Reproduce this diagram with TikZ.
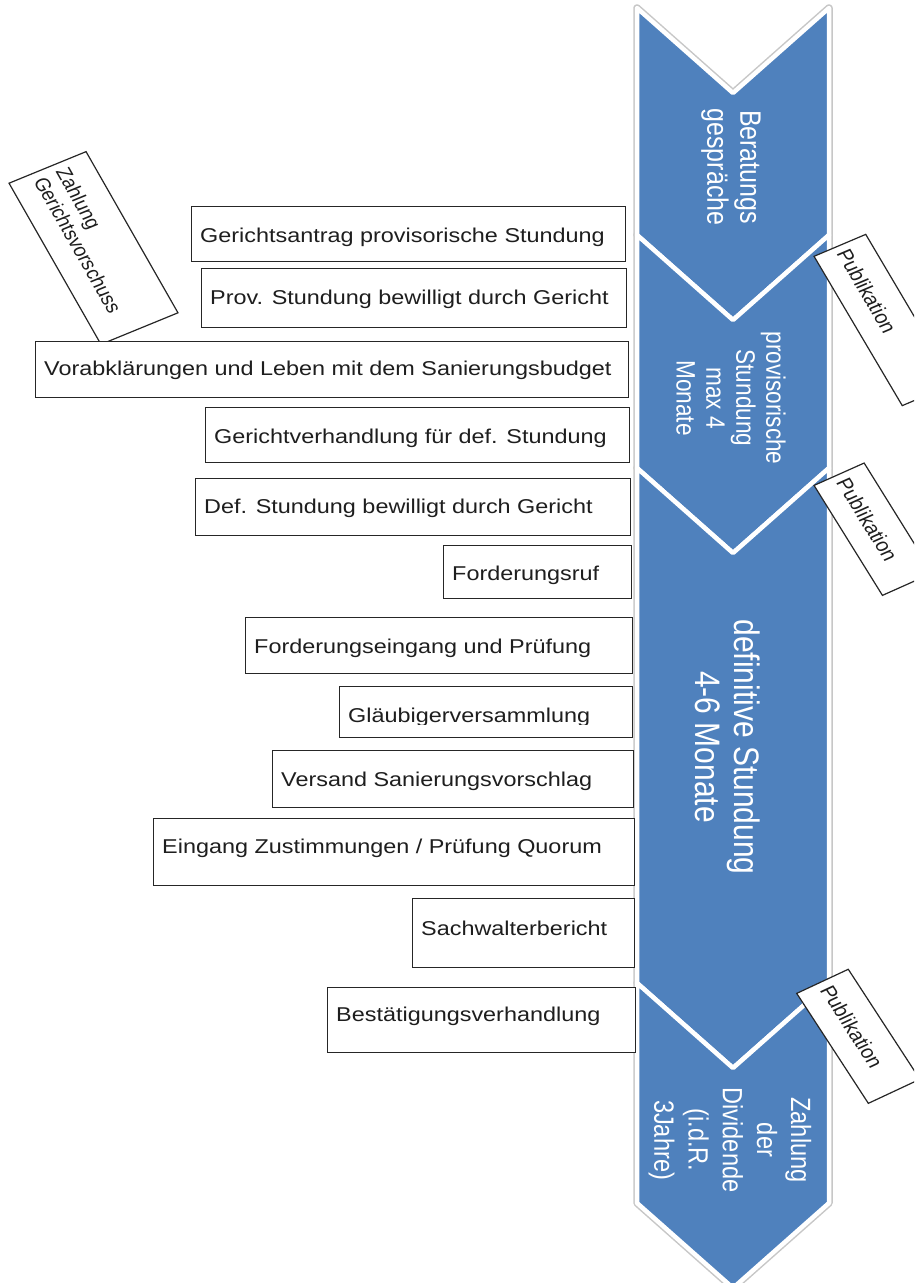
\documentclass[tikz,border=0pt]{standalone}
\usepackage{fontspec}
\setmainfont{Liberation Sans}
\definecolor{chev}{HTML}{4F81BD}
\definecolor{ink}{HTML}{1E1E1E}
\begin{document}
\begin{tikzpicture}[x=1pt,y=-1pt,
  chevring/.style={draw=black!22, line width=7.5pt, line join=round},
  chevbody/.style={fill=chev, draw=white, line width=4.5pt, line join=round},
  chevtext/.style={text=white, align=center, xscale=1.18, rotate=-90, inner sep=0pt},
  box/.style={draw=black!85, line width=1.2pt, fill=white, inner sep=0pt, anchor=north west},
  boxtext/.style={anchor=base west, inner sep=0pt, text=ink, xscale=1.17, font=\fontsize{20}{24}\selectfont},
  tilted/.style={draw=black!85, line width=1.2pt, fill=white, text=ink, align=left, inner ysep=0pt}
]
\useasboundingbox (0,0) rectangle (914,1283);
\clip (0,0) rectangle (914,1283);

% chevron column
\foreach \t/\b in {8/235, 235/468, 468/983, 983/1203}{
  \path[chevring] (637,\t) -- (733,\t+85) -- (829,\t) -- (829,\b) -- (733,\b+85) -- (637,\b) -- cycle;
}
\foreach \t/\b in {8/235, 235/468, 468/983, 983/1203}{
  \path[chevbody] (637,\t) -- (733,\t+85) -- (829,\t) -- (829,\b) -- (733,\b+85) -- (637,\b) -- cycle;
}

\node[chevtext, font=\fontsize{25}{28}\selectfont] (c1) at (731,167) {Beratungs\\gespräche};
\node[chevtext, font=\fontsize{22.6}{25.4}\selectfont] (c2) at (731,398) {provisorische\\Stundung\\max 4\\Monate};
\node[chevtext, font=\fontsize{30}{33}\selectfont] (c3) at (728,747) {definitive Stundung\\4-6 Monate};
\node[chevtext, font=\fontsize{23.6}{29}\selectfont] (c4) at (730,1140) {Zahlung\\der\\Dividende\\(i.d.R.\\3Jahre)};

% tilted note on the left
\node[tilted, xscale=1.18, rotate=-64.2, minimum width=179, minimum height=72.5,
      inner xsep=7pt, text width=165, font=\fontsize{18}{21}\selectfont] (z) at (93.5,248) {Zahlung\\Gerichtsvorschuss};

% step boxes
\node[box, minimum width=434, minimum height=55] (b1) at (191,206) {};
\node[box, minimum width=425, minimum height=59] (b2) at (201,268) {};
\node[box, minimum width=593, minimum height=56] (b3) at (35,341) {};
\node[box, minimum width=424, minimum height=55] (b4) at (205,407) {};
\node[box, minimum width=435, minimum height=57] (b5) at (195,478) {};
\node[box, minimum width=188, minimum height=53] (b6) at (443,545) {};
\node[box, minimum width=387, minimum height=56] (b7) at (245,617) {};
\node[box, minimum width=293, minimum height=51] (b8) at (339,686) {};
\node[box, minimum width=361, minimum height=57] (b9) at (272,750) {};
\node[box, minimum width=481, minimum height=67] (b10) at (153,818) {};
\node[box, minimum width=222, minimum height=69] (b11) at (412,898) {};
\node[box, minimum width=308, minimum height=65] (b12) at (327,987) {};

\node[boxtext] (t1) at (200,242) {Gerichtsantrag provisorische Stundung};
\node[boxtext] (t2) at (210,304) {Prov. Stundung bewilligt durch Gericht};
\node[boxtext] (t3) at (44,375) {Vorabklärungen und Leben mit dem Sanierungsbudget};
\node[boxtext] (t4) at (214,443) {Gerichtverhandlung für def. Stundung};
\node[boxtext] (t5) at (204,513) {Def. Stundung bewilligt durch Gericht};
\node[boxtext] (t6) at (452,580) {Forderungsruf};
\node[boxtext] (t7) at (254,653) {Forderungseingang und Prüfung};
\begin{scope}
  \clip (339,686) rectangle (632,724.5);
  \node[boxtext] (t8) at (348,722.5) {Gläubigerversammlung};
\end{scope}
\node[boxtext] (t9) at (281,786) {Versand Sanierungsvorschlag};
\node[boxtext] (t10) at (162,853) {Eingang Zustimmungen / Prüfung Quorum};
\node[boxtext] (t11) at (421,935) {Sachwalterbericht};
\node[boxtext] (t12) at (336,1021) {Bestätigungsverhandlung};

% publication notes on the right
\node[tilted, xscale=1.18, rotate=-63.4, minimum width=167, minimum height=49,
      inner xsep=6pt, text width=155, font=\fontsize{18.5}{21}\selectfont] (p1) at (884,320) {Publikation};
\node[tilted, xscale=1.18, rotate=-62.2, minimum width=124.3, minimum height=48,
      inner xsep=6pt, text width=112, font=\fontsize{18.5}{21}\selectfont] (p2) at (873.3,529.2) {Publikation};
\node[tilted, xscale=1.18, rotate=-61.1, minimum width=125.6, minimum height=49.9,
      inner xsep=6pt, text width=113, font=\fontsize{18.5}{21}\selectfont] (p3) at (858.3,1036.3) {Publikation};
\end{tikzpicture}
\end{document}
